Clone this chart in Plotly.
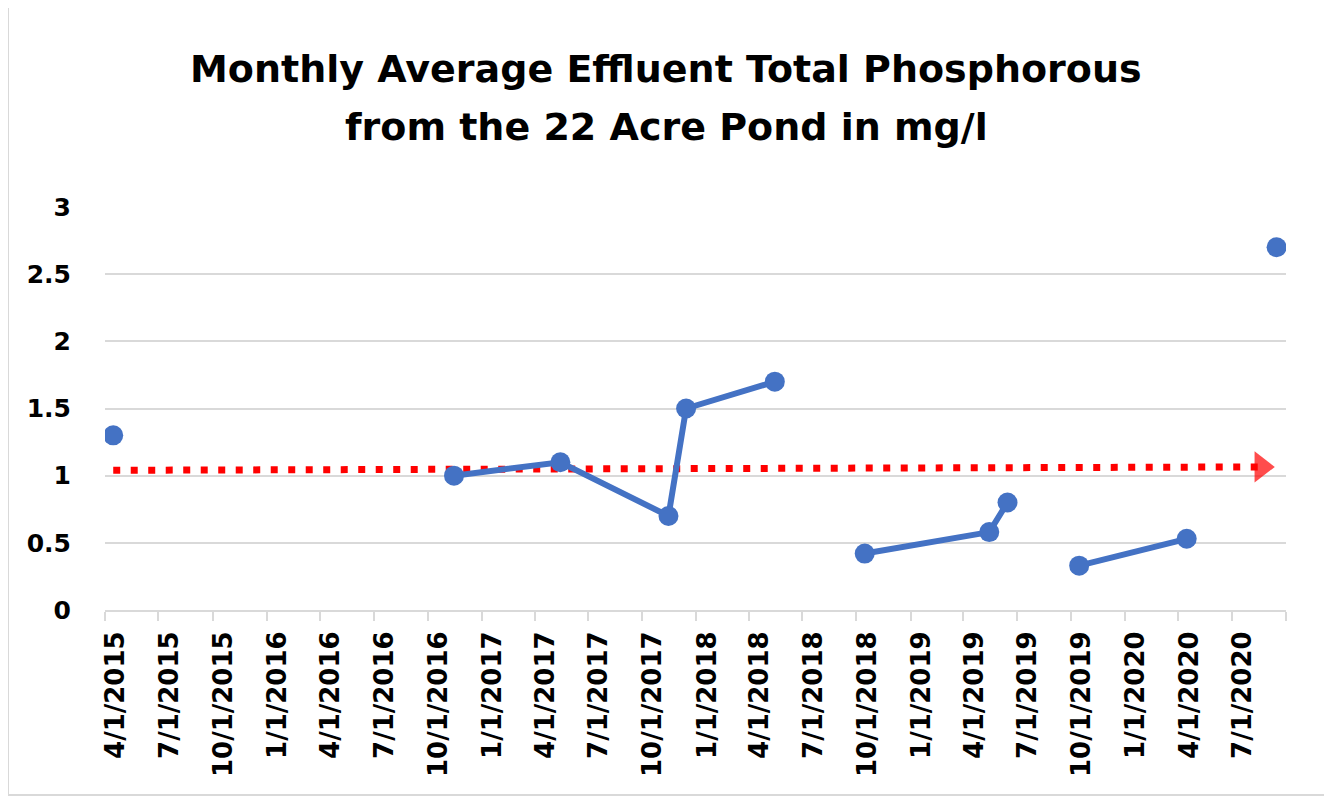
import plotly.graph_objects as go

# ---- data ----
sample_dates = ["2015-04-15", "2016-06-15",
                "2016-11-15", "2017-05-15", "2017-11-15", "2017-12-15", "2018-05-15", "2018-08-15",
                "2018-10-15", "2019-05-15", "2019-06-15", "2019-08-15",
                "2019-10-15", "2020-04-15", "2020-06-15",
                "2020-09-15"]
tp_values = [1.3, None,
             1.0, 1.1, 0.7, 1.5, 1.7, None,
             0.42, 0.58, 0.80, None,
             0.33, 0.53, None,
             2.7]

limit_dates = ["2015-04-15", "2020-08-20"]
limit_values = [1.04, 1.065]

tick_dates = ["2015-04-01", "2015-07-01", "2015-10-01", "2016-01-01", "2016-04-01", "2016-07-01",
              "2016-10-01", "2017-01-01", "2017-04-01", "2017-07-01", "2017-10-01", "2018-01-01",
              "2018-04-01", "2018-07-01", "2018-10-01", "2019-01-01", "2019-04-01", "2019-07-01",
              "2019-10-01", "2020-01-01", "2020-04-01", "2020-07-01", "2020-10-01"]
tick_labels = ["4/1/2015", "7/1/2015", "10/1/2015", "1/1/2016", "4/1/2016", "7/1/2016",
               "10/1/2016", "1/1/2017", "4/1/2017", "7/1/2017", "10/1/2017", "1/1/2018",
               "4/1/2018", "7/1/2018", "10/1/2018", "1/1/2019", "4/1/2019", "7/1/2019",
               "10/1/2019", "1/1/2020", "4/1/2020", "7/1/2020", ""]

title_lines = ["Monthly Average Effluent Total Phosphorous", "from the 22 Acre Pond in mg/l"]

FONT = "DejaVu Sans"
BLUE = "#4472C4"
GRID = "#d9d9d9"

# figure is placed 8px from the page's top-left corner (body margin)
W, H = 1324, 790
L, R, T, B = 97, 46, 199, 188
PW, PH = W - L - R, H - T - B


def px_to_paper_x(fx):
    return (fx - L) / PW


def px_to_paper_y(fy):
    return (H - B - fy) / PH


fig = go.Figure()

fig.add_trace(go.Scatter(
    x=limit_dates, y=limit_values, mode="lines+markers",
    line=dict(color="#FF0000", width=7, dash="7px,10.5px"),
    marker=dict(symbol="triangle-right", size=[0, 27], color="#FF0000", line=dict(width=0)),
    hoverinfo="skip", showlegend=False,
))

fig.add_trace(go.Scatter(
    x=sample_dates, y=tp_values, mode="lines+markers",
    line=dict(color=BLUE, width=6),
    marker=dict(color=BLUE, size=20),
    connectgaps=False, showlegend=False,
))

title_x = px_to_paper_x(666 - 8)
annotations = [
    dict(text=title_lines[0], xref="paper", yref="paper", x=title_x,
         y=px_to_paper_y(61), xanchor="center", yanchor="middle", showarrow=False,
         font=dict(family=FONT, size=38, color="black", weight="bold")),
    dict(text=title_lines[1], xref="paper", yref="paper", x=title_x,
         y=px_to_paper_y(119), xanchor="center", yanchor="middle", showarrow=False,
         font=dict(family=FONT, size=38, color="black", weight="bold")),
]

fig.update_layout(
    width=W, height=H,
    margin=dict(l=L, r=R, t=T, b=B),
    paper_bgcolor="white", plot_bgcolor="white",
    font=dict(family=FONT, color="black"),
    annotations=annotations,
    xaxis=dict(
        type="date", range=["2015-04-01", "2020-10-01"],
        tickmode="array", tickvals=tick_dates, ticktext=tick_labels,
        tickangle=-90, ticks="outside", ticklen=9, tickwidth=2, tickcolor=GRID,
        ticklabelshift=11,
        showline=True, linecolor=GRID, linewidth=2,
        showgrid=False, zeroline=False,
        tickfont=dict(family=FONT, size=26, color="black", weight="bold"),
    ),
    yaxis=dict(
        range=[0, 3], dtick=0.5, tick0=0,
        showgrid=True, gridcolor=GRID, gridwidth=2,
        zeroline=False, showline=False,
        ticks="outside", ticklen=28, tickcolor="rgba(0,0,0,0)",
        tickfont=dict(family=FONT, size=25, color="black", weight="bold"),
    ),
    shapes=[dict(type="rect", xref="paper", yref="paper",
                 x0=px_to_paper_x(0), x1=px_to_paper_x(1319),
                 y0=px_to_paper_y(787), y1=px_to_paper_y(-5),
                 line=dict(color=GRID, width=2), fillcolor="rgba(0,0,0,0)", layer="below")],
)

fig.write_html("out.html")
